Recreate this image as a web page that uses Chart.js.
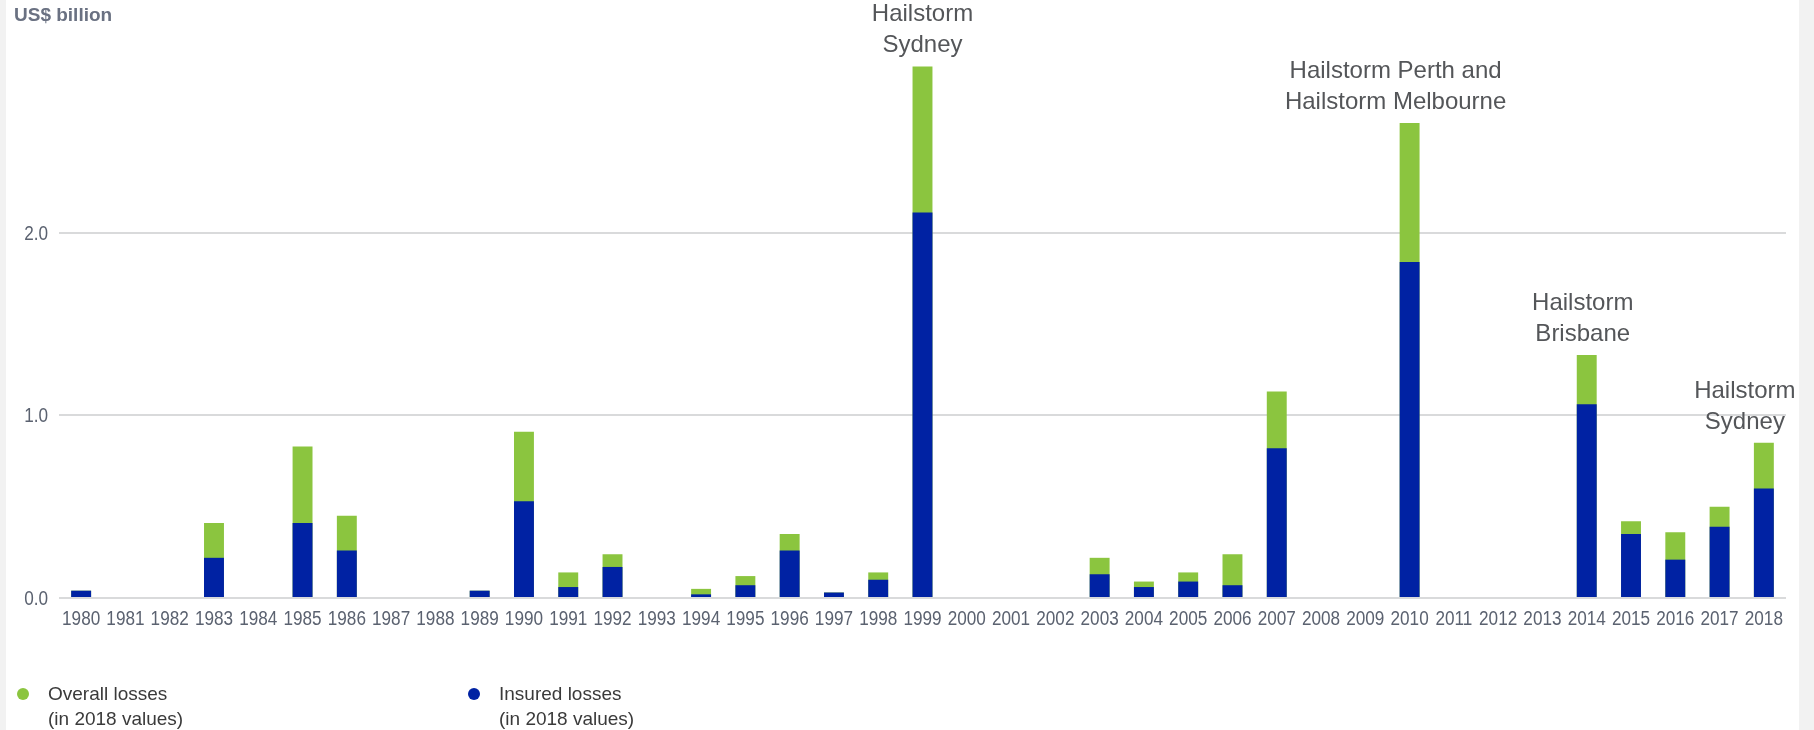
<!DOCTYPE html>
<html>
<head>
<meta charset="utf-8">
<title>Hailstorm losses Australia</title>
<script src="https://cdn.jsdelivr.net/npm/chart.js@4.4.1/dist/chart.umd.min.js"></script>
<style>
  html, body { margin: 0; padding: 0; }
  body { width: 1814px; height: 730px; background: #f2f2f2; position: relative; overflow: hidden; font-family: "Liberation Sans", Arial, sans-serif; }
  #panel { position: absolute; left: 6px; top: 0; width: 1793px; height: 730px; background: #fff; }
  #chartWrap { position: absolute; left: 0; top: 0; width: 1814px; height: 730px; }
  #unit { position: absolute; left: 14px; top: 5px; font-size: 19px; line-height: 19px; font-weight: bold; color: #6a7182; }
  .legend-item { position: absolute; top: 681px; font-size: 19px; line-height: 25px; color: #3a3a3a; }
  .legend-item .dot { position: absolute; left: -31px; top: 7px; width: 12px; height: 12px; border-radius: 50%; }
</style>
</head>
<body>
<div id="panel"></div>
<div id="chartWrap"><canvas id="lossChart" width="1814" height="730"></canvas></div>
<div id="unit">US$ billion</div>
<div class="legend-item" style="left:48px"><span class="dot" style="background:#8bc53f"></span>Overall losses<br>(in 2018 values)</div>
<div class="legend-item" style="left:499px"><span class="dot" style="background:#0022a3"></span>Insured losses<br>(in 2018 values)</div>

<script>
// Hailstorm losses per year, US$ billion (2018 values)
const years = [
  '1980', '1981', '1982', '1983', '1984', '1985', '1986', '1987', '1988', '1989',
  '1990', '1991', '1992', '1993', '1994', '1995', '1996', '1997', '1998', '1999',
  '2000', '2001', '2002', '2003', '2004', '2005', '2006', '2007', '2008', '2009',
  '2010', '2011', '2012', '2013', '2014', '2015', '2016', '2017', '2018'
];

const overallLosses = [
  0.04, null, null, 0.41, null, 0.83, 0.45, null, null, 0.04,
  0.91, 0.14, 0.24, null, 0.05, 0.12, 0.35, 0.03, 0.14, 2.91,
  null, null, null, 0.22, 0.09, 0.14, 0.24, 1.13, null, null,
  2.60, null, null, null, 1.33, 0.42, 0.36, 0.50, 0.85
];

const insuredLosses = [
  0.04, null, null, 0.22, null, 0.41, 0.26, null, null, 0.04,
  0.53, 0.06, 0.17, null, 0.02, 0.07, 0.26, 0.03, 0.10, 2.11,
  null, null, null, 0.13, 0.06, 0.09, 0.07, 0.82, null, null,
  1.84, null, null, null, 1.06, 0.35, 0.21, 0.39, 0.60
];

const yTicks = [0, 1, 2];

// Event labels over the big years
const eventYears = ['1999', '2010', '2014', '2018'];
const eventLabels = [
  ['Hailstorm', 'Sydney'],
  ['Hailstorm Perth and', 'Hailstorm Melbourne'],
  ['Hailstorm', 'Brisbane'],
  ['Hailstorm', 'Sydney']
];
const eventShift = [0, -14, -4, -19];

const GREEN = '#8bc53f';
const BLUE = '#0022a3';
const TICK_COLOR = '#5b6270';
const TICK_FONT = "19.5px 'Liberation Sans', Arial, sans-serif";
const TICK_SQUEEZE = 0.88; // narrow look for the axis numbers

// draws axis numbers in a condensed face, positions come from the scales
const condensedTicks = {
  id: 'condensedTicks',
  afterDraw(chart) {
    const { ctx, chartArea } = chart;
    const x = chart.scales.x;
    const y = chart.scales.y;
    ctx.save();
    ctx.font = TICK_FONT;
    ctx.fillStyle = TICK_COLOR;
    ctx.textBaseline = 'alphabetic';

    ctx.textAlign = 'center';
    x.ticks.forEach((t, i) => {
      ctx.save();
      ctx.translate(x.getPixelForTick(i), chartArea.bottom + 27);
      ctx.scale(TICK_SQUEEZE, 1);
      ctx.fillText(x.getLabelForValue(t.value), 0, 0);
      ctx.restore();
    });

    ctx.textAlign = 'right';
    y.ticks.forEach((t, i) => {
      ctx.save();
      ctx.translate(chartArea.left - 11, y.getPixelForTick(i) + 7);
      ctx.scale(TICK_SQUEEZE, 1);
      ctx.fillText(Number(t.value).toFixed(1), 0, 0);
      ctx.restore();
    });
    ctx.restore();
  }
};

const eventLabelPlugin = {
  id: 'eventLabels',
  afterDatasetsDraw(chart) {
    const ctx = chart.ctx;
    const x = chart.scales.x;
    const y = chart.scales.y;
    ctx.save();
    ctx.font = "24px 'Liberation Sans', Arial, sans-serif";
    ctx.fillStyle = '#545659';
    ctx.textAlign = 'center';
    ctx.textBaseline = 'alphabetic';
    eventYears.forEach((yr, i) => {
      const idx = years.indexOf(yr);
      const cx = x.getPixelForValue(idx) + eventShift[i];
      const top = y.getPixelForValue(overallLosses[idx]);
      const lines = eventLabels[i];
      lines.forEach((line, j) => {
        const base = top - 14 - (lines.length - 1 - j) * 31;
        ctx.fillText(line, cx, base);
      });
    });
    ctx.restore();
  }
};

const ctx = document.getElementById('lossChart').getContext('2d');
const lossChart = new Chart(ctx, {
  type: 'bar',
  data: {
    labels: years,
    datasets: [
      {
        label: 'Insured losses (in 2018 values)',
        data: insuredLosses,
        backgroundColor: BLUE,
        borderWidth: 0
      },
      {
        label: 'Overall losses (in 2018 values)',
        data: overallLosses,
        backgroundColor: GREEN,
        borderWidth: 0
      }
    ]
  },
  options: {
    responsive: false,
    devicePixelRatio: 1,
    animation: false,
    layout: {
      padding: { left: 59, right: 28, top: 50, bottom: 132 }
    },
    datasets: {
      bar: {
        categoryPercentage: 1,
        barPercentage: 0.45
      }
    },
    scales: {
      x: {
        stacked: true,
        grid: { display: false, drawTicks: false },
        border: { display: false },
        ticks: { display: false, autoSkip: false }
      },
      y: {
        stacked: false,
        min: 0,
        max: 3,
        afterBuildTicks: (axis) => {
          axis.ticks = yTicks.map(v => ({ value: v }));
        },
        grid: { color: '#d9dadb', lineWidth: 2, drawTicks: false },
        border: { display: false },
        ticks: { display: false }
      }
    },
    plugins: {
      legend: { display: false },
      tooltip: { enabled: false }
    }
  },
  plugins: [eventLabelPlugin, condensedTicks]
});
</script>
</body>
</html>
